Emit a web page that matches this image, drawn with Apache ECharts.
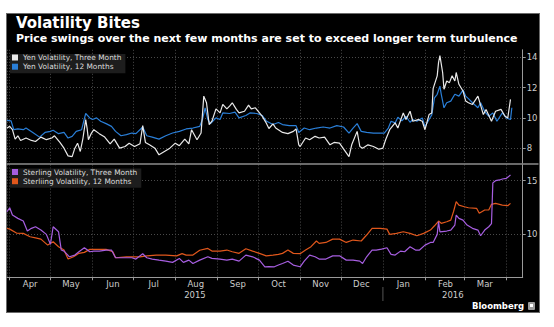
<!DOCTYPE html>
<html><head><meta charset="utf-8">
<script src="https://cdn.jsdelivr.net/npm/echarts@6/dist/echarts.min.js"></script>
<style>
html,body{margin:0;padding:0;background:#fff;width:554px;height:327px;overflow:hidden;}
#box{position:absolute;left:6px;top:13px;width:532px;height:298px;background:#000;border:1px solid #6a6a6a;}
#chart{position:absolute;left:0;top:0;width:554px;height:327px;}
</style></head><body>
<div id="box"></div><div id="chart"></div>
<script>
// ---- tick labels ----
const monthNames = ['Jan','Feb','Mar','Apr','May','Jun','Jul','Aug','Sep','Oct','Nov','Dec'];
const yearLabels = ['2015', '2016'];
const yenTicks = [8, 10, 12, 14];
const sterlingTicks = [10, 15];

// ---- Yen volatility, three month ----
const yen3mDates = ['2015-03-30','2015-04-01','2015-04-03','2015-04-05','2015-04-07','2015-04-09','2015-04-13','2015-04-17','2015-04-20','2015-04-24','2015-04-28','2015-05-02','2015-05-04','2015-05-08','2015-05-11','2015-05-14','2015-05-17','2015-05-19','2015-05-21','2015-05-23','2015-05-25','2015-05-27','2015-05-28','2015-05-29','2015-05-31','2015-06-02','2015-06-06','2015-06-10','2015-06-14','2015-06-17','2015-06-21','2015-06-25','2015-06-28','2015-07-02','2015-07-06','2015-07-08','2015-07-10','2015-07-13','2015-07-17','2015-07-20','2015-07-24','2015-07-28','2015-08-01','2015-08-04','2015-08-08','2015-08-11','2015-08-13','2015-08-17','2015-08-20','2015-08-22','2015-08-24','2015-08-26','2015-08-28','2015-08-31','2015-09-03','2015-09-05','2015-09-08','2015-09-10','2015-09-12','2015-09-15','2015-09-17','2015-09-21','2015-09-24','2015-09-26','2015-09-29','2015-10-01','2015-10-04','2015-10-07','2015-10-09','2015-10-12','2015-10-14','2015-10-19','2015-10-23','2015-10-27','2015-10-29','2015-10-31','2015-11-01','2015-11-05','2015-11-08','2015-11-12','2015-11-15','2015-11-19','2015-11-23','2015-11-26','2015-11-30','2015-12-04','2015-12-07','2015-12-09','2015-12-13','2015-12-15','2015-12-17','2015-12-21','2015-12-25','2015-12-29','2016-01-01','2016-01-03','2016-01-06','2016-01-10','2016-01-12','2016-01-16','2016-01-18','2016-01-21','2016-01-23','2016-01-27','2016-01-30','2016-02-01','2016-02-04','2016-02-06','2016-02-07','2016-02-10','2016-02-11','2016-02-12','2016-02-14','2016-02-15','2016-02-17','2016-02-19','2016-02-21','2016-02-23','2016-02-24','2016-02-26','2016-02-29','2016-03-02','2016-03-04','2016-03-07','2016-03-11','2016-03-15','2016-03-17','2016-03-21','2016-03-24','2016-03-28','2016-03-31','2016-04-02','2016-04-04'];
const yen3mValues = [9.33,9.44,9.22,8.6,8.82,8.51,8.67,8.51,8.44,8.73,8.56,8.67,8.82,8.38,8.0,7.49,7.44,8.0,8.33,7.78,8.67,9.89,9.33,8.56,8.96,9.22,8.96,8.73,8.29,8.6,8.0,8.11,8.33,8.11,8.29,9.49,8.38,8.22,8.0,7.56,7.78,8.0,8.33,8.16,8.6,8.29,9.22,8.56,9.0,11.44,11.0,9.56,9.78,10.6,10.33,10.89,10.6,10.78,11.0,10.56,10.33,10.44,10.84,10.6,10.67,10.44,10.11,9.67,9.3,9.6,9.33,9.04,8.96,9.11,9.27,8.22,8.11,8.67,8.56,8.78,8.67,8.73,8.22,8.38,8.33,7.82,7.44,8.22,9.11,8.11,8.0,8.22,8.11,7.93,8.0,8.56,9.22,9.67,9.33,10.33,9.89,10.44,9.78,9.89,9.78,9.22,10.22,10.33,11.93,12.78,13.67,14.11,13.0,11.89,12.44,12.33,12.78,12.44,13.0,12.22,11.78,11.11,11.0,10.89,11.44,10.22,10.56,9.78,10.44,10.56,10.11,10.0,11.22];

// ---- Yen volatility, 12 months ----
const yen12mDates = ['2015-03-30','2015-04-02','2015-04-04','2015-04-07','2015-04-11','2015-04-13','2015-04-18','2015-04-23','2015-04-27','2015-05-01','2015-05-03','2015-05-07','2015-05-11','2015-05-14','2015-05-17','2015-05-20','2015-05-24','2015-05-27','2015-05-30','2015-06-01','2015-06-04','2015-06-07','2015-06-11','2015-06-15','2015-06-18','2015-06-22','2015-06-26','2015-06-30','2015-07-03','2015-07-08','2015-07-11','2015-07-15','2015-07-20','2015-07-25','2015-07-30','2015-08-04','2015-08-09','2015-08-14','2015-08-19','2015-08-21','2015-08-23','2015-08-25','2015-08-27','2015-08-31','2015-09-03','2015-09-05','2015-09-10','2015-09-14','2015-09-17','2015-09-22','2015-09-25','2015-09-30','2015-10-04','2015-10-07','2015-10-12','2015-10-16','2015-10-19','2015-10-24','2015-10-29','2015-10-31','2015-11-04','2015-11-08','2015-11-13','2015-11-18','2015-11-23','2015-11-28','2015-12-03','2015-12-07','2015-12-10','2015-12-13','2015-12-16','2015-12-20','2015-12-25','2015-12-30','2016-01-02','2016-01-05','2016-01-07','2016-01-10','2016-01-12','2016-01-15','2016-01-18','2016-01-21','2016-01-23','2016-01-26','2016-01-30','2016-02-01','2016-02-04','2016-02-06','2016-02-08','2016-02-10','2016-02-12','2016-02-13','2016-02-15','2016-02-17','2016-02-20','2016-02-23','2016-02-26','2016-02-29','2016-03-02','2016-03-04','2016-03-07','2016-03-11','2016-03-13','2016-03-16','2016-03-19','2016-03-22','2016-03-25','2016-03-29','2016-04-01','2016-04-04','2016-04-05'];
const yen12mValues = [9.84,9.8,9.22,9.27,9.22,9.33,9.04,8.73,9.04,9.11,9.18,8.96,9.04,8.67,8.78,9.11,9.22,10.29,10.0,9.89,10.0,9.78,9.62,9.44,9.11,8.82,8.89,9.0,8.96,9.4,8.82,8.73,8.6,8.82,9.0,9.11,9.27,9.33,9.44,9.89,10.67,9.89,9.62,10.0,9.89,10.33,10.29,10.38,10.0,10.16,10.33,10.29,10.16,9.8,9.56,9.7,9.56,9.49,9.49,9.04,9.33,9.22,9.33,9.4,9.33,9.49,9.4,9.0,9.33,9.62,9.11,9.04,9.0,9.0,9.0,9.33,9.78,9.67,10.04,9.8,10.11,9.71,9.89,9.78,10.0,9.42,9.89,10.2,11.33,11.56,12.1,11.56,10.67,11.0,11.11,11.56,11.44,11.84,11.44,11.27,11.0,10.67,11.0,10.42,10.11,10.33,9.78,10.33,10.0,9.89,10.67];

// ---- Sterling volatility, three month ----
const gbp3mDates = ['2015-03-30','2015-04-01','2015-04-03','2015-04-07','2015-04-11','2015-04-14','2015-04-17','2015-04-20','2015-04-24','2015-04-28','2015-05-01','2015-05-03','2015-05-07','2015-05-09','2015-05-11','2015-05-15','2015-05-19','2015-05-22','2015-05-26','2015-05-30','2015-06-02','2015-06-06','2015-06-11','2015-06-15','2015-06-18','2015-06-23','2015-06-30','2015-07-03','2015-07-08','2015-07-11','2015-07-15','2015-07-20','2015-07-25','2015-07-30','2015-08-04','2015-08-07','2015-08-11','2015-08-14','2015-08-19','2015-08-25','2015-08-28','2015-09-03','2015-09-08','2015-09-12','2015-09-17','2015-09-22','2015-09-27','2015-10-02','2015-10-06','2015-10-09','2015-10-13','2015-10-16','2015-10-19','2015-10-23','2015-10-27','2015-11-01','2015-11-04','2015-11-08','2015-11-12','2015-11-15','2015-11-20','2015-11-25','2015-11-30','2015-12-05','2015-12-10','2015-12-15','2015-12-17','2015-12-20','2015-12-24','2015-12-27','2015-12-31','2016-01-04','2016-01-07','2016-01-10','2016-01-14','2016-01-17','2016-01-21','2016-01-25','2016-01-28','2016-02-01','2016-02-05','2016-02-07','2016-02-10','2016-02-11','2016-02-12','2016-02-17','2016-02-20','2016-02-23','2016-02-24','2016-02-26','2016-02-29','2016-03-03','2016-03-07','2016-03-11','2016-03-13','2016-03-16','2016-03-19','2016-03-21','2016-03-22','2016-03-24','2016-03-27','2016-03-29','2016-04-01','2016-04-04'];
const gbp3mValues = [12.11,12.48,11.8,11.49,11.24,10.31,10.56,10.71,10.4,10.0,9.07,10.71,10.24,8.54,8.44,7.91,8.07,8.38,8.75,8.38,8.44,8.44,8.54,8.54,7.82,7.82,7.82,7.7,8.19,7.82,7.7,7.6,7.51,7.39,7.76,7.39,7.6,7.29,7.6,7.91,7.76,7.7,7.6,7.7,7.51,8.07,7.91,7.6,6.98,7.0,6.98,7.14,7.29,7.5,7.14,6.98,7.51,8.07,7.91,7.7,7.7,8.0,8.0,7.6,7.6,7.51,7.29,7.91,8.54,8.54,8.63,8.75,8.13,8.07,8.44,8.38,8.85,8.54,8.54,9.0,9.25,9.25,10.0,11.18,10.24,10.31,10.4,10.87,11.8,11.49,11.33,10.87,10.56,10.4,9.87,10.4,10.71,11.0,14.8,15.0,15.07,15.16,15.22,15.53];

// ---- Sterling volatility, 12 months ----
const gbp12mDates = ['2015-03-30','2015-04-01','2015-04-06','2015-04-11','2015-04-16','2015-04-20','2015-04-24','2015-04-29','2015-05-03','2015-05-07','2015-05-11','2015-05-14','2015-05-18','2015-05-22','2015-05-26','2015-05-30','2015-06-06','2015-06-11','2015-06-16','2015-06-18','2015-06-26','2015-07-06','2015-07-11','2015-07-18','2015-07-25','2015-08-02','2015-08-06','2015-08-09','2015-08-14','2015-08-19','2015-08-25','2015-08-28','2015-09-03','2015-09-08','2015-09-12','2015-09-17','2015-09-22','2015-09-27','2015-10-02','2015-10-07','2015-10-12','2015-10-16','2015-10-19','2015-10-23','2015-10-27','2015-11-01','2015-11-05','2015-11-09','2015-11-13','2015-11-15','2015-11-20','2015-11-25','2015-11-30','2015-12-05','2015-12-10','2015-12-16','2015-12-20','2015-12-24','2015-12-30','2016-01-04','2016-01-06','2016-01-11','2016-01-16','2016-01-21','2016-01-26','2016-01-31','2016-02-05','2016-02-08','2016-02-11','2016-02-13','2016-02-17','2016-02-20','2016-02-22','2016-02-24','2016-02-26','2016-03-01','2016-03-04','2016-03-10','2016-03-12','2016-03-16','2016-03-19','2016-03-21','2016-03-24','2016-03-29','2016-04-02','2016-04-04'];
const gbp12mValues = [10.56,10.49,10.12,10.09,9.78,9.68,9.56,9.0,9.31,8.85,8.55,7.7,7.91,8.23,8.32,8.6,8.6,8.6,8.38,7.82,7.91,7.91,8.0,8.07,8.07,8.0,8.21,8.07,8.07,8.52,8.69,8.44,8.44,8.54,8.38,8.23,8.66,8.44,8.23,8.0,8.07,8.13,8.23,8.54,8.23,8.2,8.54,8.85,9.38,9.16,9.25,9.56,9.56,9.25,9.47,9.38,9.94,10.56,10.56,10.49,10.0,10.09,10.24,10.09,9.87,10.09,10.4,10.8,11.24,11.03,11.18,11.33,12.11,13.04,12.73,12.57,12.48,12.43,11.96,12.27,12.27,12.8,12.89,12.73,12.67,12.89];

const seriesNames = ['Yen Volatility, Three Month','Yen Volatility, 12 Months','Sterling Volatility, Three Month','Sterliing Volatility, 12 Months'];
const seriesColors = ['#e9e9e9','#2a7fd8','#a65ee0','#e0571c'];
const axisStart = '2015-03-30';
const axisEnd = '2016-04-13';

const pair = (ds, vs) => ds.map((d, i) => [d, vs[i]]);
const FONT = 'DejaVu Sans';
const gridLine = { show: true, lineStyle: { color: '#4a4a4a', width: 1, type: [1, 2] } };

const chart = echarts.init(document.getElementById('chart'), null, { renderer: 'svg', width: 554, height: 327 });

function monthLabel(value) {
  const d = new Date(value);
  if (d.getDate() !== 1 || d.getHours() !== 0) return '';
  if (d.getFullYear() === 2016 && d.getMonth() >= 3) return '';
  return '{m|' + monthNames[d.getMonth()] + '}';
}

function lineSeries(idx, xi, ds, vs, z) {
  return {
    name: seriesNames[idx], type: 'line', xAxisIndex: xi, yAxisIndex: xi,
    data: pair(ds, vs), showSymbol: false, symbol: 'none', z: z,
    lineStyle: { color: seriesColors[idx], width: 1.2 }, itemStyle: { color: seriesColors[idx] },
    emphasis: { disabled: true }, animation: false
  };
}

const legendBase = {
  orient: 'vertical', left: 10, icon: 'rect', itemWidth: 6, itemHeight: 6, itemGap: 2.2,
  backgroundColor: '#1d1d1d', padding: [0, 4, 3, 2], selectedMode: false,
  textStyle: { color: '#dddddd', fontSize: 7.4, fontFamily: FONT }
};

chart.setOption({
  animation: false,
  backgroundColor: 'transparent',
  title: {
    text: 'Volatility Bites',
    subtext: 'Price swings over the next few months are set to exceed longer term turbulence',
    left: 16, top: 15, itemGap: 3, padding: 0,
    textStyle: { color: '#ffffff', fontSize: 15, fontWeight: 'bold', fontFamily: FONT },
    subtextStyle: { color: '#ffffff', fontSize: 11, fontWeight: 'bold', fontFamily: FONT }
  },
  legend: [
    Object.assign({}, legendBase, { top: 54, data: [seriesNames[0], seriesNames[1]] }),
    Object.assign({}, legendBase, { top: 168.5, data: [seriesNames[2], seriesNames[3]] })
  ],
  grid: [
    { left: 7, right: 31.3, top: 49.8, height: 113.5 },
    { left: 7, right: 31.3, top: 164.6, height: 112.7 }
  ],
  xAxis: [
    { type: 'time', gridIndex: 0, min: axisStart, max: axisEnd, splitNumber: 12,
      axisLine: { show: false }, axisTick: { show: false }, axisLabel: { show: false }, splitLine: gridLine },
    { type: 'time', gridIndex: 1, min: axisStart, max: axisEnd, splitNumber: 12,
      axisLine: { show: true, lineStyle: { color: '#9a9a9a', width: 1 } },
      axisTick: { show: true, length: 3, lineStyle: { color: '#9a9a9a' } },
      axisLabel: { formatter: monthLabel, margin: 2, showMinLabel: false, showMaxLabel: false,
        color: '#cccccc', fontSize: 8.5, fontFamily: FONT,
        rich: { m: { padding: [0, 0, 0, 41], color: '#cccccc', fontSize: 8.5, fontFamily: FONT } } },
      splitLine: gridLine }
  ],
  yAxis: [
    { type: 'value', gridIndex: 0, position: 'right', min: 7, max: 14.5, splitNumber: 4,
      axisLine: { show: true, lineStyle: { color: '#9a9a9a', width: 1 } },
      axisTick: { show: true, length: 3, customValues: yenTicks, lineStyle: { color: '#9a9a9a' } },
      axisLabel: { customValues: yenTicks, margin: 4, color: '#cccccc', fontSize: 8.5, fontFamily: FONT },
      splitLine: gridLine },
    { type: 'value', gridIndex: 1, position: 'right', min: 6, max: 16.5, splitNumber: 2,
      axisLine: { show: true, lineStyle: { color: '#9a9a9a', width: 1 } },
      axisTick: { show: true, length: 3, customValues: sterlingTicks, lineStyle: { color: '#9a9a9a' } },
      axisLabel: { customValues: sterlingTicks, margin: 4, color: '#cccccc', fontSize: 8.5, fontFamily: FONT },
      splitLine: gridLine }
  ],
  series: [
    lineSeries(1, 0, yen12mDates, yen12mValues, 2),
    lineSeries(0, 0, yen3mDates, yen3mValues, 3),
    lineSeries(3, 1, gbp12mDates, gbp12mValues, 2),
    lineSeries(2, 1, gbp3mDates, gbp3mValues, 3)
  ]
});

// year labels, year separator, panel divider and source line
const xStart = chart.convertToPixel({ xAxisIndex: 1 }, axisStart);
const xYear = chart.convertToPixel({ xAxisIndex: 1 }, '2016-01-01');
const xEnd = chart.convertToPixel({ xAxisIndex: 1 }, axisEnd);
const labelStyle = { fill: '#cccccc', font: '8.5px "DejaVu Sans"', align: 'center', verticalAlign: 'middle' };
chart.setOption({
  graphic: [
    { type: 'line', shape: { x1: 6.5, y1: 164, x2: 538.5, y2: 164 }, style: { stroke: '#8c8c8c', lineWidth: 1.6 }, z: 10 },
    { type: 'text', style: Object.assign({ text: yearLabels[0], x: (xStart + xYear) / 2, y: 295 }, labelStyle) },
    { type: 'text', style: Object.assign({ text: yearLabels[1], x: (xYear + xEnd) / 2, y: 295 }, labelStyle) },
    { type: 'line', shape: { x1: xYear, y1: 287, x2: xYear, y2: 301 }, style: { stroke: '#555555', lineWidth: 1 } },
    { type: 'text', style: { text: 'Bloomberg', x: 524, y: 306, align: 'right', verticalAlign: 'middle', fill: '#ffffff', font: 'bold 8.5px "DejaVu Sans"' } },
    { type: 'rect', shape: { x: 528, y: 302, width: 7, height: 8, r: 1 }, style: { fill: '#9a9a9a' } },
    { type: 'rect', shape: { x: 530, y: 304, width: 3, height: 3 }, style: { fill: '#ffffff' } }
  ]
});
</script>
</body></html>
